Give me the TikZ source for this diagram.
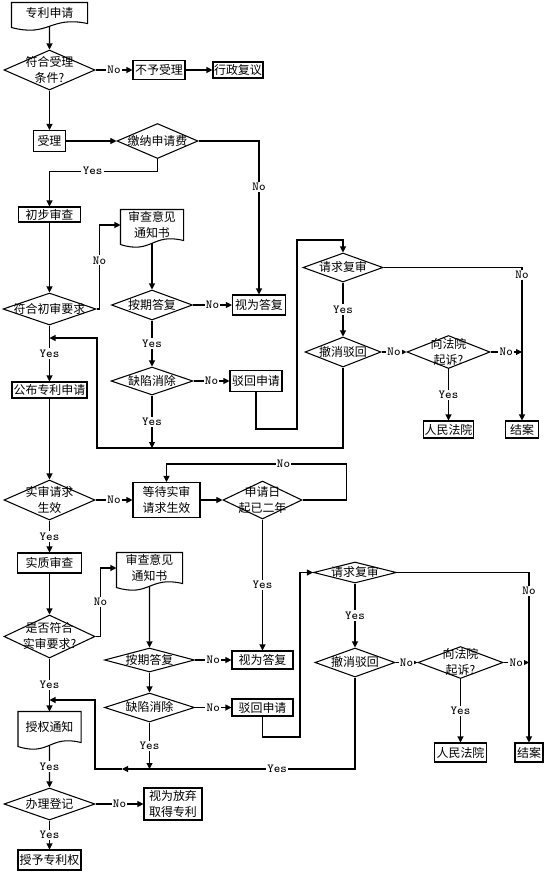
\documentclass[tikz,border=0pt]{standalone}
\usepackage{fontspec}
\setmainfont{Noto Sans CJK SC}
\usepackage{tikz}
\usetikzlibrary{arrows.meta,calc,shapes.geometric}

\newcommand\dtext[1]{\makebox[0pt]{\raisebox{-0.36em}[0pt][0pt]{\begin{tabular}{@{}c@{}}#1\end{tabular}}}}
\newcommand\docwave[1]{%
  \draw (#1.north west) -- (#1.north east) -- (#1.south east)
    .. controls ($(#1.south)+(0,-8)$) and ($(#1.south)+(0,14)$) .. coordinate[pos=0.5] (#1-w)
    ($(#1.south west)+(0,4)$) -- cycle;}

\begin{document}
\begin{tikzpicture}[x=0.2mm, y=-0.2mm, line width=0.6pt,
  >={Triangle[length=1.2mm,width=1.2mm]},
  every node/.style={font=\fontsize{6.8}{9}\selectfont, align=center},
  procbox/.style 2 args={draw, rectangle, inner sep=0pt, minimum width=#1*0.2mm, minimum height=#2*0.2mm},
  docbox/.style 2 args={rectangle, inner sep=0pt, minimum width=#1*0.2mm, minimum height=#2*0.2mm},
  decbox/.style 2 args={diamond, draw, inner sep=0pt, minimum width=#1*0.2mm, minimum height=#2*0.2mm},
  yn/.style={font=\ttfamily\fontsize{7}{8}\selectfont, fill=white, inner sep=0.8pt}]
\useasboundingbox (0,0) rectangle (550,875);

% application and acceptance
\node[docbox={75}{20}] (zlsq) at (49.5,13) {专利申请};
\node[decbox={91}{40}] (fhsl) at (49.5,70) {\dtext{符合受理\\条件?}};
\node[procbox={52}{19}] (bysl) at (159,70) {不予受理};
\node[procbox={50}{16}] (xzfy) at (238,70) {行政复议};
\node[procbox={32}{21}] (sl) at (49.5,141) {受理};
\node[decbox={81}{35}] (jnsqf) at (157.5,141) {\dtext{缴纳申请费}};

% preliminary examination
\node[procbox={62}{15}] (cbsc) at (49.5,214.5) {初步审查};
\node[decbox={93}{32}] (fhcs) at (49.5,309) {\dtext{符合初审要求}};
\node[docbox={62}{30}] (scyj) at (152,225) {审查意见\\通知书};
\node[decbox={81}{30}] (aqdf) at (152,305) {\dtext{按期答复}};
\node[procbox={53}{20}] (swdf) at (259,305) {视为答复};
\node[decbox={82}{28}] (qxxc) at (152,381) {\dtext{缺陷消除}};
\node[procbox={52}{21}] (bhsq) at (256,381) {驳回申请};
\node[decbox={80}{29}] (qqfs) at (343,267.5) {\dtext{请求复审}};
\node[decbox={76}{30}] (cxbh) at (343,352) {\dtext{撤消驳回}};
\node[decbox={83}{33}] (xfyqs) at (448.5,352) {\dtext{向法院\\起诉?}};
\node[procbox={50}{17}] (rmfy) at (448.5,429.5) {人民法院};
\node[procbox={33}{17}] (ja) at (522,429.5) {结案};
\node[procbox={75}{16}] (gbsq) at (49.5,390) {公布专利申请};

% substantive examination
\node[decbox={91}{40}] (ssqq) at (49.5,500) {\dtext{实审请求\\生效}};
\node[procbox={67}{35}] (ddss) at (166.5,500) {等待实审\\请求生效};
\node[decbox={79}{38}] (ynen) at (262.5,500) {\dtext{申请日\\起已二年}};
\node[procbox={64}{20}] (szsc) at (49.5,563) {实质审查};
\node[decbox={91}{43}] (sfss) at (49.5,636.5) {\dtext{是否符合\\实审要求?}};
\node[docbox={65}{30}] (scyj2) at (149.5,568) {审查意见\\通知书};
\node[decbox={90}{24}] (aqdf2) at (149.5,660) {\dtext{按期答复}};
\node[procbox={61}{18}] (swdf2) at (262.5,660) {视为答复};
\node[decbox={90}{29}] (qxxc2) at (149.5,707.5) {\dtext{缺陷消除}};
\node[procbox={61}{17}] (bhsq2) at (262.5,707.5) {驳回申请};
\node[decbox={83}{21}] (qqfs2) at (355,572.5) {\dtext{请求复审}};
\node[decbox={80}{29}] (cxbh2) at (355,662.5) {\dtext{撤消驳回}};
\node[decbox={85}{32}] (xfyqs2) at (460.5,662.5) {\dtext{向法院\\起诉?}};
\node[procbox={52}{19}] (rmfy2) at (460.5,752.5) {人民法院};
\node[procbox={28}{19}] (ja2) at (529,752.5) {结案};

% grant
\node[docbox={62}{30}] (sqtz) at (49.5,727) {授权通知};
\node[decbox={91}{32}] (bldj) at (49.5,804) {\dtext{办理登记}};
\node[procbox={58}{32}] (swfq) at (173,804) {视为放弃\\取得专利};
\node[procbox={63}{20}] (syzl) at (49.5,860) {授予专利权};

\docwave{zlsq}
\docwave{scyj}
\docwave{scyj2}
\docwave{sqtz}

\coordinate (j1) at (152,448);
\coordinate (j2) at (49.5,338);
\coordinate (j3) at (149.5,769);
\coordinate (j4) at (122,769);
\coordinate (j5) at (49.5,700);

% connectors, upper part
\draw[->] (zlsq-w) -- (fhsl.north);
\draw[->] (fhsl) -- node[yn]{No} (bysl);
\draw[->] (bysl) -- (xzfy);
\draw[->] (fhsl) -- (sl);
\draw[->] (sl) -- (jnsqf);
\draw[->] (jnsqf.south) -- ++(0,12) -| node[yn,pos=0.3]{Yes} (cbsc.north);
\draw[->] (jnsqf.east) -| node[yn,pos=0.65]{No} (swdf.north);
\draw[->] (cbsc) -- (fhcs);
\draw[->] (fhcs.east) -- ++(3,0) |- node[yn,pos=0.29]{No} (scyj.west);
\draw[->] (scyj-w) -- (aqdf.north);
\draw[->] (aqdf) -- node[yn]{No} (swdf);
\draw[->] (aqdf) -- node[yn]{Yes} (qxxc);
\draw[->] (qxxc) -- node[yn]{No} (bhsq);
\draw[->] (qxxc.south) -- node[yn]{Yes} (j1);
\draw[->] (bhsq.south) |- (297,429) -- (297,240) -| (qqfs.north);
\draw[->] (qqfs.east) -| node[yn,pos=0.525]{No} (ja.north);
\draw[->] (qqfs) -- node[yn]{Yes} (cxbh);
\draw[->] (cxbh) -- node[yn]{No} (xfyqs);
\draw[->] (xfyqs.east) -- node[yn]{No} (xfyqs.east -| ja.north);
\draw[->] (xfyqs) -- node[yn]{Yes} (rmfy);
\draw[->] (cxbh.south) |- (97,448) |- (j2);
\draw[->] (fhcs) -- node[yn]{Yes} (gbsq);
\draw[->] (gbsq) -- (ssqq);

% connectors, lower part
\draw[->] (ssqq) -- node[yn]{No} (ddss);
\draw[->] (ddss) -- (ynen);
\draw[->] (ynen.east) -- ++(44,0) -- ++(0,-36) -| node[yn,pos=0.175]{No} (ddss.north);
\draw[->] (ynen) -- node[yn]{Yes} (swdf2);
\draw[->] (ssqq) -- node[yn]{Yes} (szsc);
\draw[->] (szsc) -- (sfss);
\draw[->] (sfss.east) -- ++(5,0) |- node[yn,pos=0.25]{No} (scyj2.west);
\draw[->] (scyj2-w) -- (aqdf2.north);
\draw[->] (aqdf2) -- node[yn]{No} (swdf2);
\draw[->] (aqdf2) -- (qxxc2);
\draw[->] (qxxc2) -- node[yn]{No} (bhsq2);
\draw[->] (qxxc2.south) -- node[yn]{Yes} (j3);
\draw[->] (bhsq2.south) |- (300,737) |- (qqfs2.west);
\draw[->] (qqfs2.east) -| node[yn,pos=0.555]{No} (ja2.north);
\draw[->] (qqfs2) -- node[yn]{Yes} (cxbh2);
\draw[->] (cxbh2) -- node[yn]{No} (xfyqs2);
\draw[->] (xfyqs2.east) -- node[yn]{No} (xfyqs2.east -| ja2.north);
\draw[->] (xfyqs2) -- node[yn]{Yes} (rmfy2);
\draw[->] (cxbh2.south) |- node[yn,pos=0.667]{Yes} (j4);
\draw[->] (j4) -- (95,769) |- (j5);
\draw[->] (sfss) -- node[yn]{Yes} (sqtz);
\draw[->] (sqtz-w) -- node[yn]{Yes} (bldj.north);
\draw[->] (bldj) -- node[yn]{No} (swfq);
\draw[->] (bldj) -- node[yn]{Yes} (syzl);

\end{tikzpicture}
\end{document}
